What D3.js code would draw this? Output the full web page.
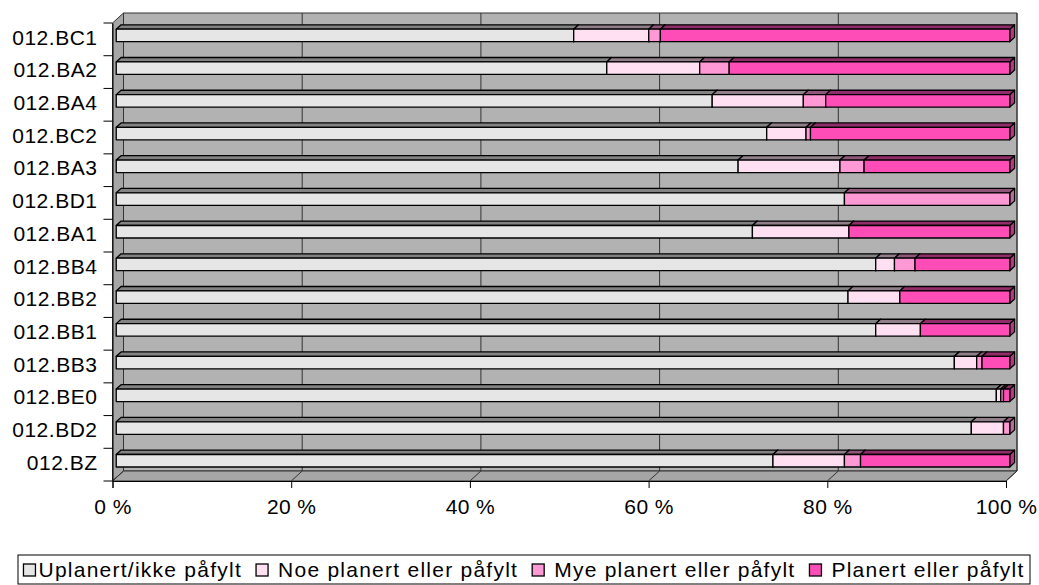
<!DOCTYPE html>
<html>
<head>
<meta charset="utf-8">
<script src="https://cdn.jsdelivr.net/npm/d3@7"></script>
<style>
  html, body { margin: 0; padding: 0; background: #fff; }
  svg { display: block; font-family: "Liberation Sans", Arial, sans-serif; }
</style>
</head>
<body>
<svg id="chart" width="1039" height="585"></svg>
<script>
// Area categories, top to bottom
const categories = ["012.BC1", "012.BA2", "012.BA4", "012.BC2", "012.BA3", "012.BD1", "012.BA1",
                    "012.BB4", "012.BB2", "012.BB1", "012.BB3", "012.BE0", "012.BD2", "012.BZ"];

// Share of each area (percent) per planning state
const uplanert = [51.2, 54.9, 66.7, 72.8, 69.6, 81.5, 71.2, 85.0, 81.9, 85.0, 93.8, 98.5, 95.7, 73.5];
const noe      = [ 8.4, 10.4, 10.2,  4.4, 11.4,  0.0, 10.8,  2.1,  5.8,  5.0,  2.5,  0.5,  3.6,  8.0];
const mye      = [ 1.3,  3.3,  2.5,  0.5,  2.7, 18.5,  0.0,  2.3,  0.0,  0.0,  0.6,  0.3,  0.7,  1.8];
const planert  = [39.1, 31.4, 20.6, 22.3, 16.3,  0.0, 18.0, 10.6, 12.3, 10.0,  3.1,  0.7,  0.0, 16.7];

const seriesNames = ["Uplanert/ikke påfylt", "Noe planert eller påfylt", "Mye planert eller påfylt", "Planert eller påfylt"];
const seriesColors = ["#e6e6e6", "#ffe0f3", "#ff99d6", "#ff4db8"];
const tickValues = [0, 0.2, 0.4, 0.6, 0.8, 1.0];
const tickLabels = ["0 %", "20 %", "40 %", "60 %", "80 %", "100 %"];

const seriesValues = [uplanert, noe, mye, planert];

const svg = d3.select("#chart");
const FONT = 21;

// Front plane of the plot box and the 3-D depth offset
const x = d3.scaleLinear().domain([0, 1]).range([112.5, 1006]);
const y = d3.scaleBand().domain(categories).range([23, 481]);
const DX = 11, DY = -10;
const top0 = y.range()[0], bot0 = y.range()[1];
const xl = x(0), xr = x(1);

const wallFill = "#b2b2b2";
const edge = "#000";

// Back wall
svg.append("polygon")
  .attr("points", [[xl + DX, top0 + DY], [xr + DX, top0 + DY], [xr + DX, bot0 + DY], [xl + DX, bot0 + DY]].join(" "))
  .attr("fill", wallFill).attr("stroke", "#333").attr("stroke-width", 1);
// Left side wall
svg.append("polygon")
  .attr("points", [[xl, top0], [xl + DX, top0 + DY], [xl + DX, bot0 + DY], [xl, bot0]].join(" "))
  .attr("fill", "#a6a6a6").attr("stroke", "#333").attr("stroke-width", 1);
// Floor
svg.append("polygon")
  .attr("points", [[xl, bot0], [xl + DX, bot0 + DY], [xr + DX, bot0 + DY], [xr, bot0]].join(" "))
  .attr("fill", "#a6a6a6").attr("stroke", "#333").attr("stroke-width", 1);

// Value gridlines on the back wall and floor
const grid = svg.append("g").attr("stroke", "#333").attr("stroke-width", 1);
tickValues.forEach(t => {
  grid.append("line")
    .attr("x1", x(t) + DX).attr("x2", x(t) + DX)
    .attr("y1", top0 + DY).attr("y2", bot0 + DY);
  grid.append("line")
    .attr("x1", x(t) + DX).attr("y1", bot0 + DY)
    .attr("x2", x(t)).attr("y2", bot0);
});

// Value axis along the front edge of the floor
const xAxis = d3.axisBottom(x).tickValues(tickValues)
  .tickFormat((d, i) => tickLabels[i]).tickSize(7).tickPadding(11);
const gx = svg.append("g").attr("transform", `translate(0,${bot0})`).call(xAxis);
gx.select(".domain").attr("stroke", "#000");
gx.selectAll(".tick line").attr("stroke", "#000");
gx.selectAll("text").attr("font-size", FONT).attr("fill", "#000")
  .attr("letter-spacing", "0.4px")
  .attr("font-family", "Liberation Sans, Arial, sans-serif");

// Category axis along the front edge of the left wall
const yAxis = d3.axisLeft(y).tickSize(0).tickPadding(15);
const gy = svg.append("g").attr("transform", `translate(${xl},0)`).call(yAxis);
gy.select(".domain").attr("stroke", "#000");
gy.selectAll("text").attr("font-size", FONT).attr("fill", "#000")
  .attr("letter-spacing", "0.5px")
  .attr("font-family", "Liberation Sans, Arial, sans-serif")
  .attr("dy", "0.25em");
// tick marks between categories
const yTicks = categories.map(c => y(c)).concat([bot0]);
gy.selectAll(".cat-tick").data(yTicks).enter().append("line")
  .attr("x1", -9).attr("x2", 0).attr("y1", d => d).attr("y2", d => d)
  .attr("stroke", "#000");

// 3-D stacked bars
const F1 = 0.34, F2 = 0.78;          // front / back of a bar as a share of the box depth
const fdx1 = DX * F1, fdy1 = DY * F1, fdx2 = DX * F2, fdy2 = DY * F2;
const BAR_H = 12.5;

const stackData = categories.map((c, i) => {
  const row = { cat: c };
  seriesNames.forEach((s, k) => row[s] = seriesValues[k][i] / 100);
  return row;
});
const stacked = d3.stack().keys(seriesNames).offset(d3.stackOffsetExpand)(stackData);

const bars = svg.append("g");
categories.forEach((c, i) => {
  const yTop = y(c) + y.bandwidth() / 2 - BAR_H / 2 + fdy1 - 0.5;
  const yBot = yTop + BAR_H;
  const ddx = fdx2 - fdx1, ddy = fdy2 - fdy1;
  stacked.forEach((layer, k) => {
    const [a, b] = layer[i];
    if (b - a <= 0) return;
    const x0 = x(a) + fdx1, x1 = x(b) + fdx1;
    const col = d3.color(seriesColors[k]);
    const g = bars.append("g").attr("stroke", edge).attr("stroke-width", 1.3).attr("stroke-linejoin", "round");
    // right side face
    g.append("polygon")
      .attr("points", [[x1, yTop], [x1 + ddx, yTop + ddy], [x1 + ddx, yBot + ddy], [x1, yBot]].join(" "))
      .attr("fill", col.darker(0.9));
    // top face
    g.append("polygon")
      .attr("points", [[x0, yTop], [x0 + ddx, yTop + ddy], [x1 + ddx, yTop + ddy], [x1, yTop]].join(" "))
      .attr("fill", col.darker(1.6));
    // front face
    g.append("rect")
      .attr("x", x0).attr("y", yTop).attr("width", x1 - x0).attr("height", BAR_H)
      .attr("fill", seriesColors[k]);
  });
});

// Legend
const legend = svg.append("g");
const legendBox = legend.append("rect")
  .attr("fill", "#fff").attr("stroke", "#000").attr("stroke-width", 1);
const items = legend.append("g");
let cx = 0;
const ly = 570;
const GAP = 14;
seriesNames.forEach((s, k) => {
  const it = items.append("g").attr("transform", `translate(${cx},0)`);
  it.append("rect").attr("x", 0).attr("y", ly - 6).attr("width", 12).attr("height", 12)
    .attr("fill", seriesColors[k]).attr("stroke", "#000").attr("stroke-width", 1.3);
  const off = k === 0 ? 15 : 22;
  const t = it.append("text").attr("x", off).attr("y", ly).attr("dy", "0.35em")
    .attr("font-size", FONT).attr("letter-spacing", "1.25px").text(s);
  cx += t.node().getComputedTextLength() + off + GAP;
});
const totalW = cx - GAP;
const bx0 = 18, bx1 = 1030;
items.attr("transform", `translate(${(bx0 + bx1) / 2 - totalW / 2},0)`);
legendBox.attr("x", bx0).attr("y", 555).attr("width", bx1 - bx0).attr("height", 29);
</script>
</body>
</html>
